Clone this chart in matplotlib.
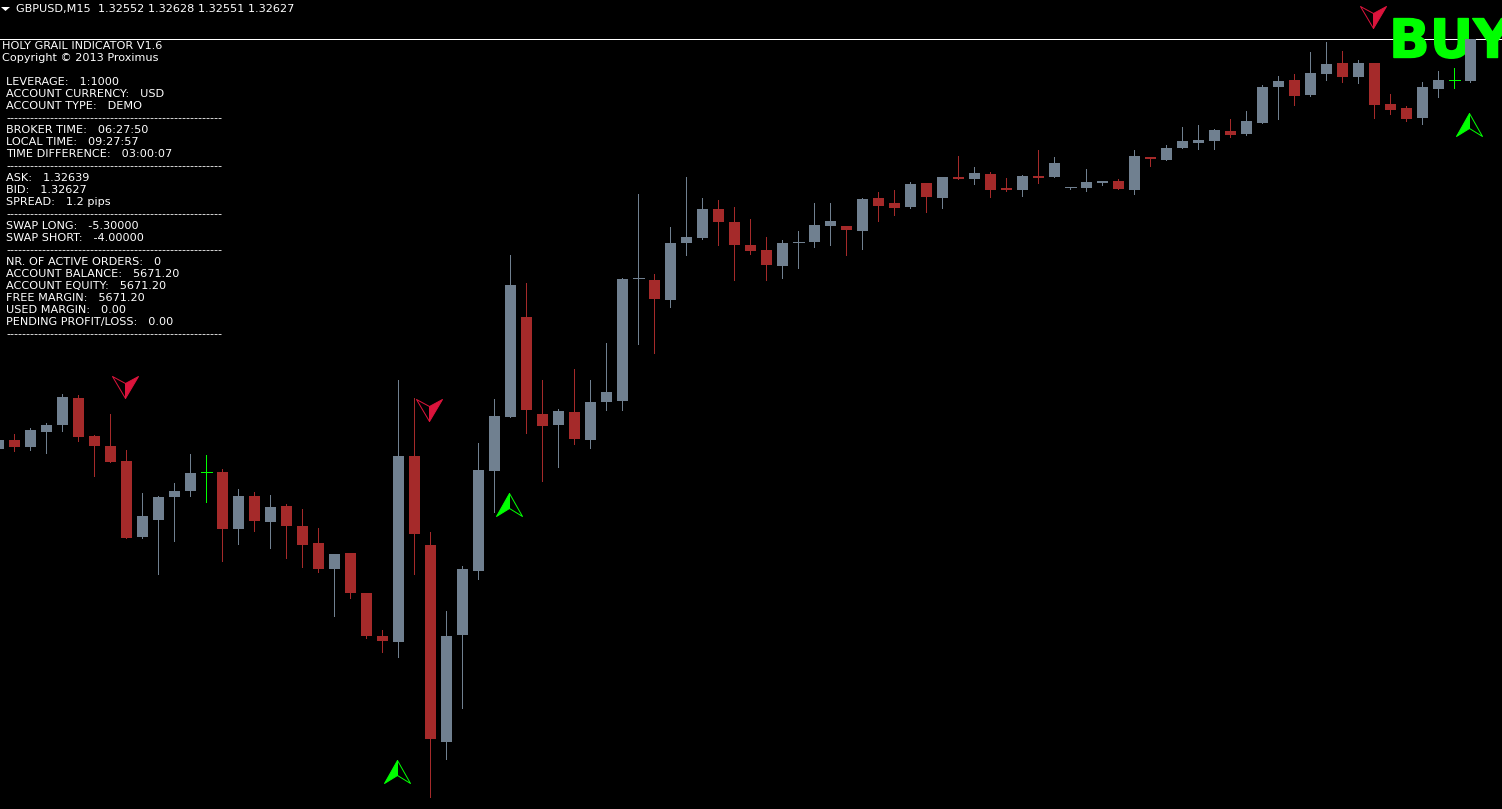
import matplotlib
matplotlib.use("Agg")
import matplotlib.pyplot as plt
import matplotlib.patheffects as pe
from matplotlib.patches import Polygon
from matplotlib.path import Path
import numpy as np

# GBPUSD M15 candles
opens = [1.31809, 1.31827, 1.31813, 1.31843, 1.31857, 1.31911, 1.31835, 1.31815, 1.31785, 1.31633,
         1.31667, 1.31713, 1.31725, 1.31763, 1.31763, 1.31649, 1.31715, 1.31663, 1.31695, 1.31655,
         1.31621, 1.31569, 1.31601, 1.31521, 1.31435, 1.31423, 1.31795, 1.31617, 1.31223, 1.31437,
         1.31565, 1.31765, 1.31873, 1.32073, 1.31879, 1.31857, 1.31883, 1.31827, 1.31903, 1.31905,
         1.32151, 1.32147, 1.32107, 1.32221, 1.32231, 1.32289, 1.32263, 1.32217, 1.32207, 1.32175,
         1.32223, 1.32223, 1.32255, 1.32255, 1.32245, 1.32311, 1.32301, 1.32293, 1.32341, 1.32311,
         1.32353, 1.32349, 1.32359, 1.32331, 1.32327, 1.32355, 1.32353, 1.32333, 1.32331, 1.32341,
         1.32345, 1.32327, 1.32393, 1.32387, 1.32411, 1.32421, 1.32425, 1.32445, 1.32439, 1.32461,
         1.32533, 1.32547, 1.32517, 1.32559, 1.32581, 1.32553, 1.32581, 1.32499, 1.32491, 1.32471,
         1.32529, 1.32547, 1.32545]
highs = [1.31827, 1.31839, 1.31851, 1.31861, 1.31919, 1.31917, 1.31837, 1.31879, 1.31807, 1.31721,
         1.31715, 1.31741, 1.31799, 1.31797, 1.31769, 1.31729, 1.31723, 1.31717, 1.31699, 1.31689,
         1.31651, 1.31599, 1.31601, 1.31521, 1.31447, 1.31947, 1.31911, 1.31643, 1.31485, 1.31575,
         1.31821, 1.31909, 1.32197, 1.32141, 1.31947, 1.31889, 1.31969, 1.31947, 1.32021, 1.32151,
         1.32319, 1.32159, 1.32253, 1.32353, 1.32311, 1.32307, 1.32293, 1.32269, 1.32233, 1.32227,
         1.32245, 1.32301, 1.32301, 1.32255, 1.32311, 1.32323, 1.32327, 1.32343, 1.32341, 1.32353,
         1.32395, 1.32373, 1.32363, 1.32351, 1.32357, 1.32407, 1.32393, 1.32333, 1.32369, 1.32345,
         1.32349, 1.32407, 1.32393, 1.32417, 1.32453, 1.32457, 1.32449, 1.32469, 1.32485, 1.32537,
         1.32555, 1.32559, 1.32603, 1.32623, 1.32605, 1.32587, 1.32581, 1.32519, 1.32495, 1.32543,
         1.32565, 1.32571, 1.32629]
lows = [1.31809, 1.31805, 1.31807, 1.31801, 1.31845, 1.31825, 1.31755, 1.31783, 1.31631, 1.31631,
        1.31559, 1.31625, 1.31715, 1.31703, 1.31585, 1.31619, 1.31645, 1.31611, 1.31591, 1.31573,
        1.31563, 1.31475, 1.31511, 1.31431, 1.31403, 1.31393, 1.31559, 1.31113, 1.31189, 1.31291,
        1.31549, 1.31683, 1.31873, 1.31841, 1.31745, 1.31773, 1.31819, 1.31811, 1.31887, 1.31887,
        1.32019, 1.32001, 1.32093, 1.32197, 1.32229, 1.32217, 1.32147, 1.32199, 1.32147, 1.32151,
        1.32171, 1.32213, 1.32217, 1.32197, 1.32209, 1.32265, 1.32277, 1.32291, 1.32283, 1.32291,
        1.32349, 1.32339, 1.32313, 1.32325, 1.32315, 1.32341, 1.32353, 1.32329, 1.32325, 1.32337,
        1.32329, 1.32319, 1.32375, 1.32387, 1.32411, 1.32409, 1.32409, 1.32433, 1.32437, 1.32461,
        1.32469, 1.32497, 1.32515, 1.32547, 1.32543, 1.32541, 1.32471, 1.32479, 1.32465, 1.32459,
        1.32513, 1.32531, 1.32543]
closes = [1.31827, 1.31813, 1.31847, 1.31857, 1.31913, 1.31833, 1.31815, 1.31783, 1.31631, 1.31675,
          1.31713, 1.31725, 1.31761, 1.31763, 1.31649, 1.31715, 1.31665, 1.31693, 1.31655, 1.31617,
          1.31569, 1.31599, 1.31521, 1.31435, 1.31425, 1.31795, 1.31639, 1.31229, 1.31435, 1.31569,
          1.31767, 1.31875, 1.32137, 1.31887, 1.31855, 1.31885, 1.31829, 1.31903, 1.31923, 1.32149,
          1.32151, 1.32109, 1.32221, 1.32233, 1.32289, 1.32263, 1.32217, 1.32205, 1.32177, 1.32221,
          1.32223, 1.32257, 1.32265, 1.32247, 1.32309, 1.32295, 1.32291, 1.32339, 1.32313, 1.32353,
          1.32349, 1.32361, 1.32327, 1.32327, 1.32355, 1.32351, 1.32381, 1.32333, 1.32343, 1.32345,
          1.32329, 1.32395, 1.32389, 1.32411, 1.32425, 1.32427, 1.32447, 1.32437, 1.32465, 1.32533,
          1.32545, 1.32515, 1.32561, 1.32579, 1.32553, 1.32581, 1.32497, 1.32487, 1.32469, 1.32533,
          1.32547, 1.32547, 1.32629]

# doji candles drawn in lime by the indicator
lime_dojis = [13, 91]

# signal arrows: candle index and price of the arrow tip
sell_bars = [8, 27, 86]
sell_prices = [1.31911, 1.31865, 1.32651]
buy_bars = [25, 32, 92]
buy_prices = [1.31187, 1.31721, 1.32481]

# last price line as it sits on this rounded price scale
price_line = 1.32628
header = "GBPUSD,M15  1.32552 1.32628 1.32551 1.32627"
title_lines = ["HOLY GRAIL INDICATOR V1.6", "Copyright © 2013 Proximus"]
dashes = "-" * 54
info_lines = [
    "LEVERAGE:   1:1000",
    "ACCOUNT CURRENCY:   USD",
    "ACCOUNT TYPE:   DEMO",
    dashes,
    "BROKER TIME:   06:27:50",
    "LOCAL TIME:   09:27:57",
    "TIME DIFFERENCE:   03:00:07",
    dashes,
    "ASK:   1.32639",
    "BID:   1.32627",
    "SPREAD:   1.2 pips",
    dashes,
    "SWAP LONG:   -5.30000",
    "SWAP SHORT:   -4.00000",
    dashes,
    "NR. OF ACTIVE ORDERS:   0",
    "ACCOUNT BALANCE:   5671.20",
    "ACCOUNT EQUITY:   5671.20",
    "FREE MARGIN:   5671.20",
    "USED MARGIN:   0.00",
    "PENDING PROFIT/LOSS:   0.00",
    dashes,
]

W, H = 1502, 809
GRAY = "#708090"
RED = "#A52A2A"
LIME = "#00FF00"
CRIMSON = "#DC143C"

plt.rcParams["font.family"] = "DejaVu Sans"

fig = plt.figure(figsize=(W / 100, H / 100), dpi=100, facecolor="black")
ax = fig.add_axes([0, 0, 1, 1], facecolor="black")
ax.set_axis_off()
# 16 px per candle, 0.00002 per px; limits nudged so 1 px lines snap on the right rows
ax.set_xlim(1.6 / 16, (W + 1.6) / 16)
ax.set_ylim(1.310888, 1.327068)

idx = np.arange(len(opens))
o = np.array(opens)
c = np.array(closes)
colors = [RED if c[i] < o[i] else GRAY for i in idx]
for i in lime_dojis:
    colors[i] = LIME

px = 0.72  # 1 px line in points
body_w = 11 / 16

ax.axhline(price_line, color="white", lw=px, zorder=1)

ax.vlines(idx, lows, highs, colors=colors, lw=px, antialiased=False, zorder=3)
ax.bar(idx, np.abs(c - o), bottom=np.minimum(o, c), width=body_w, color=colors,
       linewidth=0, antialiased=False, zorder=4)
flat = o == c
ax.hlines(c[flat], idx[flat] - body_w / 2, idx[flat] + body_w / 2,
          colors=[colors[i] for i in idx[flat]], lw=px, antialiased=False, zorder=4)

# arrow markers, half filled and half outlined, tip at the origin (units are px)
sell_fill = Path([(-1, 0), (12, 22), (-1, 15), (-1, 0)], closed=True)
sell_edge = Path([(-1, 0), (-14, 22), (-1, 15), (-1, 0)], closed=True)
buy_fill = Path([(-1, 0), (-14, -23), (-1, -15), (-1, 0)], closed=True)
buy_edge = Path([(-1, 0), (12, -23), (-1, -15), (-1, 0)], closed=True)
ms_sell = 2 * 22 * px
ms_buy = 2 * 23 * px

ax.plot(sell_bars, sell_prices, ls="", marker=sell_fill, ms=ms_sell, mfc=CRIMSON, mec=CRIMSON, mew=px, zorder=6)
ax.plot(sell_bars, sell_prices, ls="", marker=sell_edge, ms=ms_sell, mfc="none", mec=CRIMSON, mew=px, zorder=6)
ax.plot(buy_bars, buy_prices, ls="", marker=buy_fill, ms=ms_buy, mfc=LIME, mec=LIME, mew=px, zorder=6)
ax.plot(buy_bars, buy_prices, ls="", marker=buy_edge, ms=ms_buy, mfc="none", mec=LIME, mew=px, zorder=6)

ax.text(1389 / W, 1 - 57.5 / H, "BUY", transform=ax.transAxes, color=LIME, fontsize=38.5,
        family="DejaVu Sans", weight="bold", va="baseline", ha="left", zorder=2,
        path_effects=[pe.withStroke(linewidth=1.0, foreground=LIME)])


def label(x, y, s):
    fig.text(x / W, 1 - y / H, s, color="white", fontsize=8.15, va="baseline", ha="left")


fig.add_artist(Polygon([(1 / W, 1 - 7 / H), (10 / W, 1 - 7 / H), (5.5 / W, 1 - 11 / H)],
                       closed=True, transform=fig.transFigure, fc="white", ec="none"))
label(16, 12, header)

for n, s in enumerate(title_lines):
    label(2, 49 + 12 * n, s)

for n, s in enumerate(info_lines):
    label(6, 85 + 12 * n, s)

fig.savefig("out.png", dpi=100, facecolor="black")
